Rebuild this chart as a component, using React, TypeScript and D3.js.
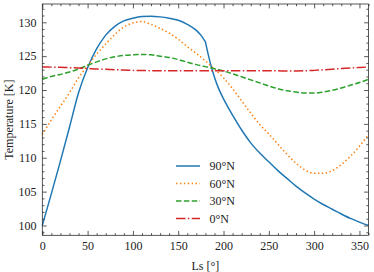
import React, { useEffect, useRef } from 'react'
import * as d3 from 'd3'

// solar longitude grid (deg)
const lsGrid = [0, 10, 20, 30, 40, 50, 60, 70, 80, 90, 100, 110, 120, 130, 140, 150, 160, 170, 180,
  190, 200, 210, 220, 230, 240, 250, 260, 270, 280, 290, 300, 310, 320, 330, 340, 350, 360]
// the polar curve has a kink at 180, so it gets a few extra samples
const lsPolar = [0, 10, 20, 30, 40, 50, 60, 70, 80, 90, 100, 110, 120, 130, 140, 150, 160, 170, 175, 180,
  185, 190, 195, 200, 210, 220, 230, 240, 250, 260, 270, 280, 290, 300, 310, 320, 330, 340, 350, 360]
const kinkLs = 180

const t90 = [100, 104.7, 109.5, 114.5, 119.6, 123.3, 126.1, 128.1, 129.4, 130.2, 130.6, 130.85, 130.9, 130.8,
  130.6, 130.3, 129.7, 128.8, 128.1, 127.1, 124.2, 121.9, 120.1, 118.7, 116.3, 114.1, 112.2, 110.7, 109.4,
  108.1, 106.95, 105.8, 104.8, 103.9, 103.1, 102.4, 101.7, 101.05, 100.5, 100]
const t60 = [113.4, 115.6, 117.6, 119.6, 121.8, 123.6, 125.3, 126.8, 128.2, 129.3, 129.9, 130.1, 129.7,
  129.1, 128.4, 127.5, 126.4, 125.4, 124.3, 123.1, 121.8, 120.2, 118.4, 116.6, 114.9, 113.5, 112, 110.5,
  109.2, 108.2, 107.7, 107.7, 108.1, 109, 110.2, 111.7, 113.4]
const t30 = [121.6, 122, 122.3, 122.65, 123.1, 123.65, 124.15, 124.6, 124.9, 125.1, 125.2, 125.25, 125.2,
  125, 124.8, 124.5, 124.1, 123.75, 123.45, 123.15, 122.8, 122.4, 121.95, 121.5, 121.05, 120.6, 120.2,
  119.9, 119.7, 119.55, 119.55, 119.7, 119.95, 120.3, 120.7, 121.1, 121.6]
const t0 = [123.4, 123.38, 123.35, 123.3, 123.25, 123.18, 123.1, 123.05, 123, 122.95, 122.9, 122.88, 122.86,
  122.86, 122.85, 122.85, 122.85, 122.85, 122.85, 122.85, 122.85, 122.85, 122.85, 122.85, 122.85, 122.84,
  122.83, 122.82, 122.82, 122.84, 122.9, 122.98, 123.08, 123.17, 123.25, 123.33, 123.4]

const labels = ['90°N', '60°N', '30°N', '0°N']
const xTicks = [0, 50, 100, 150, 200, 250, 300, 350]
const yTicks = [100, 105, 110, 115, 120, 125, 130]

const W = 374
const H = 272
const plot = { left: 42.3, right: 368.5, top: 4, bottom: 235.3 }
const font = '"Liberation Serif", "DejaVu Serif", serif'

function App() {
  const svgRef = useRef<SVGSVGElement>(null)

  useEffect(() => {
    const svg = d3.select(svgRef.current)
    svg.selectAll('*').remove()

    const x = d3.scaleLinear().domain([0, 360]).range([plot.left, plot.right])
    const y = d3.scaleLinear().domain([98.55, 132.7]).range([plot.bottom, plot.top])

    const series = [
      { ls: lsPolar, t: t90, color: '#1f77b4', dash: null, kink: kinkLs },
      { ls: lsGrid, t: t60, color: '#ff7f0e', dash: '1.48,2.44', kink: null },
      { ls: lsGrid, t: t30, color: '#2ca02c', dash: '5.5,2.37', kink: null },
      { ls: lsGrid, t: t0, color: '#d62728', dash: '9.5,2.37,1.48,2.37', kink: null },
    ]

    const line = d3.line<[number, number]>()
      .x(d => x(d[0]))
      .y(d => y(d[1]))
      .curve(d3.curveMonotoneX)

    const g = svg.append('g')
    series.forEach(s => {
      const pts = s.ls.map((v, i) => [v, s.t[i]] as [number, number])
      let d = line(pts)
      if (s.kink != null) {
        // smooth on each side, sharp corner at the kink
        const k = s.ls.indexOf(s.kink)
        const tail = line(pts.slice(k)) || ''
        d = line(pts.slice(0, k + 1)) + 'L' + tail.slice(1)
      }
      g.append('path')
        .attr('d', d)
        .attr('fill', 'none')
        .attr('stroke', s.color)
        .attr('stroke-width', 1.48)
        .attr('stroke-linejoin', 'round')
        .attr('stroke-dasharray', s.dash)
    })

    // inward ticks on every side
    const xMinor = d3.range(0, 361, 10).filter(v => v % 50 !== 0)
    const yMinor = d3.range(99, 133, 1).filter(v => v % 5 !== 0)
    const axisColor = '#222'

    const ax = (axis: any, tx: number, ty: number) =>
      svg.append('g').attr('transform', `translate(${tx},${ty})`).call(axis)

    const major = 4.4
    const minor = 2.2
    const parts = [
      ax(d3.axisBottom(x).tickValues(xTicks).tickSizeInner(-major).tickSizeOuter(0).tickPadding(6.5), 0, plot.bottom),
      ax(d3.axisBottom(x).tickValues(xMinor).tickSizeInner(-minor).tickSizeOuter(0).tickFormat(() => ''), 0, plot.bottom),
      ax(d3.axisTop(x).tickValues(xTicks).tickSizeInner(-major).tickSizeOuter(0).tickFormat(() => ''), 0, plot.top),
      ax(d3.axisTop(x).tickValues(xMinor).tickSizeInner(-minor).tickSizeOuter(0).tickFormat(() => ''), 0, plot.top),
      ax(d3.axisLeft(y).tickValues(yTicks).tickSizeInner(-major).tickSizeOuter(0).tickPadding(5.8), plot.left, 0),
      ax(d3.axisLeft(y).tickValues(yMinor).tickSizeInner(-minor).tickSizeOuter(0).tickFormat(() => ''), plot.left, 0),
      ax(d3.axisRight(y).tickValues(yTicks).tickSizeInner(-major).tickSizeOuter(0).tickFormat(() => ''), plot.right, 0),
      ax(d3.axisRight(y).tickValues(yMinor).tickSizeInner(-minor).tickSizeOuter(0).tickFormat(() => ''), plot.right, 0),
    ]
    parts.forEach(p => {
      p.select('.domain').remove()
      p.selectAll('line').attr('stroke', axisColor).attr('stroke-width', 0.75)
      p.selectAll('text').attr('fill', '#222').style('font-family', font).style('font-size', '12px')
    })

    svg.append('rect')
      .attr('x', plot.left).attr('y', plot.top)
      .attr('width', plot.right - plot.left).attr('height', plot.bottom - plot.top)
      .attr('fill', 'none').attr('stroke', axisColor).attr('stroke-width', 0.75)

    // axis titles
    svg.append('text')
      .attr('x', (plot.left + plot.right) / 2).attr('y', 269.5)
      .attr('text-anchor', 'middle')
      .style('font-family', font).style('font-size', '12px').attr('fill', '#222')
      .text('Ls [°]')
    svg.append('text')
      .attr('transform', `translate(12.5,${(plot.top + plot.bottom) / 2}) rotate(-90)`)
      .attr('text-anchor', 'middle')
      .style('font-family', font).style('font-size', '12px').attr('fill', '#222')
      .text('Temperature [K]')

    // legend, no frame
    const leg = svg.append('g').attr('transform', 'translate(176,166)')
    series.forEach((s, i) => {
      const row = leg.append('g').attr('transform', `translate(0,${i * 17.5})`)
      row.append('line')
        .attr('x1', 0).attr('x2', 24).attr('y1', 0).attr('y2', 0)
        .attr('stroke', s.color).attr('stroke-width', 1.48)
        .attr('stroke-dasharray', s.dash)
      row.append('text')
        .attr('x', 33.5).attr('y', 4)
        .style('font-family', font).style('font-size', '12px').attr('fill', '#222')
        .text(labels[i])
    })
  }, [])

  return (
    <svg ref={svgRef} width={W} height={H}
      style={{ position: 'absolute', left: 0, top: 0, background: '#fff' }} />
  )
}

export default App
